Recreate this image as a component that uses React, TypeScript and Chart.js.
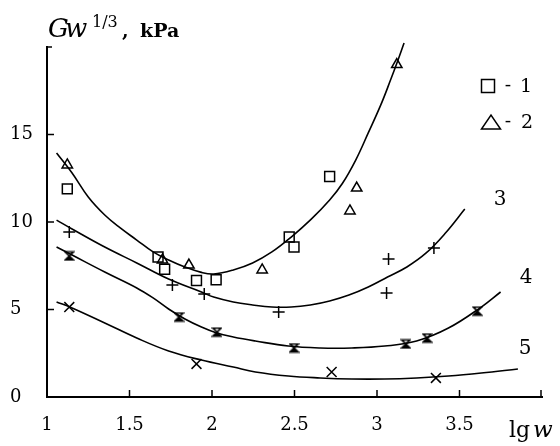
import React, { useEffect, useRef } from 'react';
import { Chart, registerables } from 'chart.js';
Chart.register(...registerables);

// ---- data ----
const xTickValues = [1, 1.5, 2, 2.5, 3, 3.5, 4];
const yTickValues = [0, 5, 10, 15, 20];

const s1X = [1.123, 1.673, 1.713, 1.906, 2.025, 2.468, 2.497, 2.713];
const s1Y = [11.89, 8.0, 7.3, 6.66, 6.7, 9.14, 8.57, 12.6];

const s2X = [1.123, 1.70, 1.86, 2.304, 2.836, 2.877, 3.12];
const s2Y = [13.26, 7.83, 7.54, 7.26, 10.63, 11.94, 19.0];

const s3X = [1.135, 1.76, 1.953, 2.404, 3.058, 3.07, 3.345];
const s3Y = [9.43, 6.4, 5.89, 4.86, 5.94, 7.89, 8.51];

const s4X = [1.135, 1.80, 2.03, 2.497, 3.175, 3.304, 3.608];
const s4Y = [8.06, 4.57, 3.71, 2.8, 3.03, 3.37, 4.91];

const s5X = [1.135, 1.906, 2.725, 3.357];
const s5Y = [5.14, 1.89, 1.43, 1.09];

const curveAX = [1.058, 1.152, 1.25, 1.35, 1.444, 1.544, 1.643, 1.737, 1.836, 1.936, 2.01, 2.129, 2.246, 2.363, 2.48, 2.6, 2.713, 2.79, 2.871, 2.947, 3.023, 3.082, 3.123, 3.164];
const curveAY = [13.94, 12.8, 11.43, 10.4, 9.66, 8.97, 8.29, 7.83, 7.43, 7.12, 7.03, 7.26, 7.66, 8.29, 9.14, 10.15, 11.26, 12.2, 13.54, 15.09, 16.69, 18.11, 19.14, 20.23];

const curve3X = [1.058, 1.152, 1.35, 1.544, 1.737, 1.936, 2.01, 2.129, 2.246, 2.363, 2.48, 2.596, 2.713, 2.83, 2.947, 3.064, 3.181, 3.298, 3.415, 3.532];
const curve3Y = [10.11, 9.6, 8.57, 7.66, 6.74, 6.0, 5.71, 5.43, 5.26, 5.14, 5.14, 5.26, 5.49, 5.83, 6.29, 6.86, 7.43, 8.23, 9.37, 10.74];

const curve4X = [1.058, 1.152, 1.35, 1.544, 1.643, 1.737, 1.836, 1.936, 2.029, 2.129, 2.263, 2.462, 2.655, 2.848, 3.047, 3.24, 3.433, 3.632, 3.749];
const curve4Y = [8.57, 8.11, 7.14, 6.23, 5.66, 5.03, 4.46, 4.0, 3.66, 3.43, 3.2, 2.91, 2.8, 2.8, 2.91, 3.2, 3.94, 5.14, 6.0];

const curve5X = [1.058, 1.152, 1.35, 1.544, 1.737, 1.936, 2.129, 2.263, 2.462, 2.655, 2.848, 3.047, 3.24, 3.433, 3.632, 3.854];
const curve5Y = [5.43, 5.09, 4.23, 3.37, 2.63, 2.11, 1.71, 1.43, 1.2, 1.09, 1.03, 1.03, 1.09, 1.2, 1.37, 1.6];

const curveLabels = ['3', '4', '5'];
const legendLabels = ['1', '2'];
const yAxisTitle = ['G', 'w', '1/3', ',', 'kPa'];
const xAxisTitle = ['lg', 'w'];

const zip = (xs: number[], ys: number[]) => xs.map((x, i) => ({ x, y: ys[i] }));

function makeHourglass(): HTMLCanvasElement {
  const c = document.createElement('canvas');
  c.width = 11;
  c.height = 11;
  const g = c.getContext('2d')!;
  g.strokeStyle = '#000';
  g.fillStyle = '#000';
  g.lineWidth = 1.6;
  g.beginPath();
  g.moveTo(1.5, 1.5);
  g.lineTo(9.5, 1.5);
  g.lineTo(1.5, 9.5);
  g.lineTo(9.5, 9.5);
  g.closePath();
  g.stroke();
  g.beginPath();
  g.moveTo(5.5, 5.5);
  g.lineTo(1.5, 9.5);
  g.lineTo(9.5, 9.5);
  g.closePath();
  g.fill();
  return c;
}

const SERIF = '"DejaVu Serif"';

const decorPlugin = {
  id: 'decor',
  afterDraw(chart: any) {
    const ctx = chart.ctx as CanvasRenderingContext2D;
    const xs = chart.scales.x;
    const ys = chart.scales.y;
    const area = chart.chartArea;
    ctx.save();
    ctx.strokeStyle = '#000';
    ctx.fillStyle = '#000';
    ctx.lineWidth = 1.5;
    // inward ticks
    yTickValues.forEach((v) => {
      const py = ys.getPixelForValue(v);
      ctx.beginPath();
      ctx.moveTo(area.left, py);
      ctx.lineTo(area.left + (v === 20 ? 5 : 7), py);
      ctx.stroke();
    });
    xTickValues.forEach((v) => {
      const px = xs.getPixelForValue(v);
      ctx.beginPath();
      ctx.moveTo(Math.min(px, area.right - 1), area.bottom);
      ctx.lineTo(Math.min(px, area.right - 1), area.bottom - 7);
      ctx.stroke();
    });

    // y axis title
    ctx.textBaseline = 'alphabetic';
    ctx.textAlign = 'left';
    ctx.font = `italic 26px ${SERIF}`;
    ctx.fillText(yAxisTitle[0], 48, 37);
    ctx.fillText(yAxisTitle[1], 65, 37);
    ctx.font = `16px ${SERIF}`;
    ctx.fillText(yAxisTitle[2], 92, 27);
    ctx.font = `bold 19px ${SERIF}`;
    ctx.fillText(yAxisTitle[3], 122, 37);
    ctx.fillText(yAxisTitle[4], 140, 37);

    // x axis title
    ctx.font = `22px ${SERIF}`;
    ctx.fillText(xAxisTitle[0], 509, 437);
    ctx.font = `italic 23px ${SERIF}`;
    ctx.fillText(xAxisTitle[1], 533, 437);

    // curve labels
    ctx.font = `20px ${SERIF}`;
    ctx.textAlign = 'center';
    ctx.textBaseline = 'middle';
    ctx.fillText(curveLabels[0], 500, 200);
    ctx.fillText(curveLabels[1], 526, 278);
    ctx.fillText(curveLabels[2], 525, 349);

    // legend
    ctx.lineWidth = 1.5;
    ctx.strokeRect(481.5, 79.5, 13, 13);
    ctx.beginPath();
    ctx.moveTo(481.5, 129);
    ctx.lineTo(500.5, 129);
    ctx.lineTo(491, 115);
    ctx.closePath();
    ctx.stroke();
    ctx.font = `19px ${SERIF}`;
    ctx.fillText('-', 508, 86);
    ctx.fillText(legendLabels[0], 526, 87);
    ctx.fillText('-', 508, 122);
    ctx.fillText(legendLabels[1], 527, 123);
    ctx.restore();
  },
};

export default function App() {
  const ref = useRef<HTMLCanvasElement | null>(null);

  useEffect(() => {
    document.body.style.margin = '0';
    const canvas = ref.current;
    if (!canvas) return;
    const hourglass = makeHourglass();
    const lineDs = (xs: number[], ys: number[]) => ({
      data: zip(xs, ys),
      showLine: true,
      borderColor: '#000',
      borderWidth: 1.6,
      pointRadius: 0,
      tension: 0.4,
      clip: false,
    });
    const pointDs = (xs: number[], ys: number[], style: any, r: number) => ({
      data: zip(xs, ys),
      showLine: false,
      pointStyle: style,
      pointRadius: r,
      pointBorderColor: '#000',
      pointBackgroundColor: 'rgba(0,0,0,0)',
      pointBorderWidth: 1.5,
      clip: false,
    });
    const chart = new Chart(canvas, {
      type: 'scatter',
      data: {
        datasets: [
          lineDs(curveAX, curveAY),
          lineDs(curve3X, curve3Y),
          lineDs(curve4X, curve4Y),
          lineDs(curve5X, curve5Y),
          pointDs(s1X, s1Y, 'rect', 7),
          pointDs(s2X, s2Y, 'triangle', 6),
          pointDs(s3X, s3Y, 'cross', 6),
          pointDs(s4X, s4Y, hourglass, 5),
          pointDs(s5X, s5Y, 'crossRot', 7),
        ] as any,
      },
      options: {
        responsive: false,
        maintainAspectRatio: false,
        animation: false,
        devicePixelRatio: 1,
        layout: { padding: { left: 10, top: 47, right: 0, bottom: 0 } },
        plugins: { legend: { display: false }, tooltip: { enabled: false } },
        scales: {
          x: {
            type: 'linear',
            min: 1,
            max: 4,
            afterBuildTicks: (scale: any) => {
              scale.ticks = xTickValues.map((v) => ({ value: v }));
            },
            afterFit: (scale: any) => {
              scale.height = 49;
            },
            grid: { display: false, drawTicks: false },
            border: { display: true, color: '#000', width: 2 },
            ticks: {
              padding: 18,
              color: '#000',
              maxRotation: 0,
              autoSkip: false,
              font: { family: 'DejaVu Serif', size: 18 },
              callback: (v: any) => (v === 4 ? '' : String(v)),
            },
          },
          y: {
            type: 'linear',
            min: 0,
            max: 20,
            afterBuildTicks: (scale: any) => {
              scale.ticks = yTickValues.map((v) => ({ value: v }));
            },
            afterFit: (scale: any) => {
              scale.width = 37;
            },
            grid: { display: false, drawTicks: false },
            border: { display: true, color: '#000', width: 2 },
            ticks: {
              crossAlign: 'far',
              color: '#000',
              font: { family: 'DejaVu Serif', size: 18 },
              callback: (v: any) => (v === 20 ? '' : String(v)),
            },
          },
        },
      } as any,
      plugins: [decorPlugin],
    });
    return () => chart.destroy();
  }, []);

  return (
    <div style={{ position: 'fixed', left: 0, top: 0, width: 560, height: 446, background: '#fff' }}>
      <canvas ref={ref} width={560} height={446} style={{ display: 'block' }} />
    </div>
  );
}
